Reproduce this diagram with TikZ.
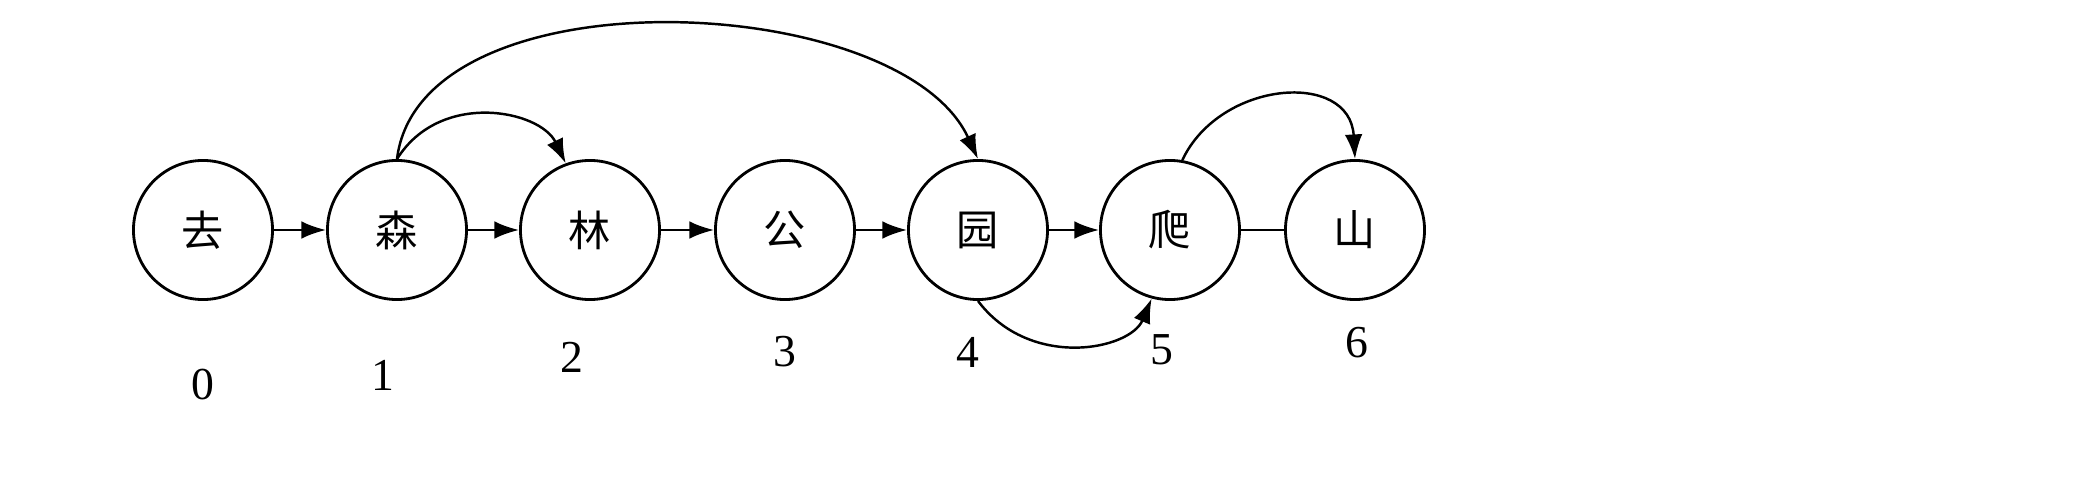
\documentclass[tikz,border=0pt]{standalone}
\usepackage{fontspec}
\setmainfont{Liberation Serif}
\newfontfamily\cjk{Noto Sans CJK SC}
\usetikzlibrary{arrows.meta}
\begin{document}
\begin{tikzpicture}[x=0.01cm,y=-0.01cm,
  st/.style={circle,draw,line width=0.8pt,minimum size=1.39cm,inner sep=0pt,font=\cjk\fontsize{12}{14}\selectfont},
  lab/.style={font=\fontsize{13}{15}\selectfont},
  ed/.style={line width=0.7pt,-{Latex[length=7pt,width=5pt]}}]
\useasboundingbox (0,0) rectangle (2099,497);
\node[st] (n0) at (203,230) {去};
\node[st] (n1) at (397,230) {森};
\node[st] (n2) at (590,230) {林};
\node[st] (n3) at (785,230) {公};
\node[st] (n4) at (978,230) {园};
\node[st] (n5) at (1170,230) {爬};
\node[st] (n6) at (1355,230) {山};
\node[lab] (l0) at (203,385) {0};
\node[lab] (l1) at (383,375) {1};
\node[lab] (l2) at (572,357) {2};
\node[lab] (l3) at (785,352) {3};
\node[lab] (l4) at (968,352) {4};
\node[lab] (l5) at (1162,350) {5};
\node[lab] (l6) at (1357,343) {6};
\draw[ed] (n0) -- (n1);
\draw[ed] (n1) -- (n2);
\draw[ed] (n2) -- (n3);
\draw[ed] (n3) -- (n4);
\draw[ed] (n4) -- (n5);
\draw[line width=0.7pt] (n5) -- (n6);
\draw[ed] (n1.north) .. controls (440,90) and (540,110) .. (n2.110);
\draw[ed] (n1.north) .. controls (420,-30) and (900,-10) .. (n4.north);
\draw[ed] (n5.80) .. controls (1220,80) and (1350,70) .. (n6.north);
\draw[ed] (n4.south) .. controls (1030,370) and (1130,350) .. (n5.255);
\end{tikzpicture}
\end{document}
